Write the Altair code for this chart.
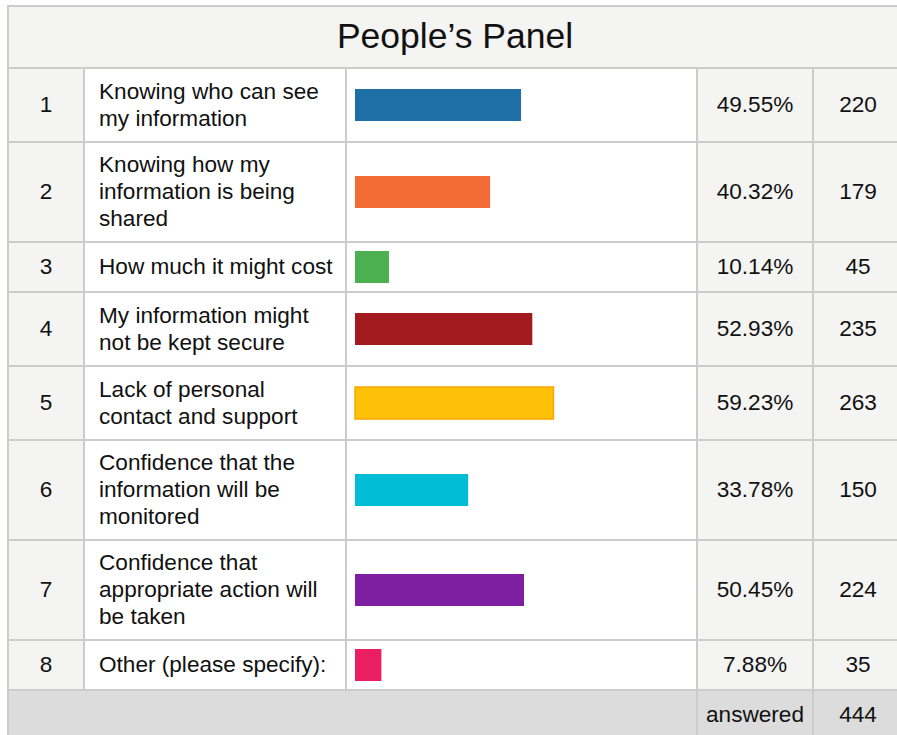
import altair as alt
import pandas as pd

W, H = 897, 735

title = "People’s Panel"
ranks = [1, 2, 3, 4, 5, 6, 7, 8]
labels = [
    "Knowing who can see\nmy information",
    "Knowing how my\ninformation is being\nshared",
    "How much it might cost",
    "My information might\nnot be kept secure",
    "Lack of personal\ncontact and support",
    "Confidence that the\ninformation will be\nmonitored",
    "Confidence that\nappropriate action will\nbe taken",
    "Other (please specify):",
]
pcts = [49.55, 40.32, 10.14, 52.93, 59.23, 33.78, 50.45, 7.88]
counts = [220, 179, 45, 235, 263, 150, 224, 35]
bar_colors = ["#1D6FA5", "#F26B35", "#4CAF50", "#A31B1F",
              "#FFC107", "#00BCD4", "#7E1FA2", "#E91E63"]
bar_outline = [None, None, None, None, "#FFA500", None, None, None]
answered_label = "answered"
answered_total = 444

# ---- styling / layout ----
FONT = "Liberation Sans"
GRID = "#cccccc"
SHADE = "#f4f4f2"
FOOT = "#dcdcdc"
TXT = "#111111"
FS = 22.6
LH = 27
col_edges = [8, 84, 346, 697, 813, 915]
col_fills = [SHADE, "#ffffff", "#ffffff", SHADE, SHADE]
title_top, title_bot = 6, 68
row_h = {1: 50, 2: 74, 3: 100}
BAR_H = 32

rows = []
y = title_bot
for i in range(len(ranks)):
    n = labels[i].count("\n") + 1
    h = row_h[n]
    mid = y + h / 2
    rows.append(dict(
        rank=str(ranks[i]), label=labels[i], pct=pcts[i], count=str(counts[i]),
        color=bar_colors[i],
        stroke=bar_outline[i] if bar_outline[i] else bar_colors[i],
        sw=1.5 if bar_outline[i] else 0.0,
        top=y, bot=y + h, mid=mid, ly=mid - (n - 1) * LH / 2,
        btop=mid - BAR_H / 2, bbot=mid + BAR_H / 2,
        zero=0.0, pct_text=f"{pcts[i]:.2f}%",
    ))
    y += h
foot_top = y
foot_bot = H + 10
rows_df = pd.DataFrame(rows)

cells = [dict(x0=col_edges[0], x1=col_edges[-1], y0=title_top, y1=title_bot, fill=SHADE)]
for r in rows:
    for c in range(5):
        cells.append(dict(x0=col_edges[c], x1=col_edges[c + 1], y0=r["top"], y1=r["bot"],
                          fill=col_fills[c]))
cells.append(dict(x0=col_edges[0], x1=col_edges[3], y0=foot_top, y1=foot_bot, fill=FOOT))
cells.append(dict(x0=col_edges[3], x1=col_edges[4], y0=foot_top, y1=foot_bot, fill=FOOT))
cells.append(dict(x0=col_edges[4], x1=col_edges[5], y0=foot_top, y1=foot_bot, fill=FOOT))
cells_df = pd.DataFrame(cells)

LX = alt.Scale(domain=[0, W], nice=False, zero=False)
LY = alt.Scale(domain=[0, H], reverse=True, nice=False, zero=False)

grid = alt.Chart(cells_df).mark_rect(stroke=GRID, strokeWidth=2, clip=True).encode(
    x=alt.X("x0:Q", scale=LX, axis=None),
    x2="x1:Q",
    y=alt.Y("y0:Q", scale=LY, axis=None),
    y2="y1:Q",
    fill=alt.Fill("fill:N", scale=None),
)

bars = alt.Chart(rows_df).mark_rect().encode(
    x=alt.X("zero:Q", scale=alt.Scale(domain=[0, 100], range=[355, 690], nice=False), axis=None),
    x2="pct:Q",
    y=alt.Y("btop:Q", scale=LY, axis=None),
    y2="bbot:Q",
    fill=alt.Fill("color:N", scale=None),
    stroke=alt.Stroke("stroke:N", scale=None),
    strokeWidth=alt.StrokeWidth("sw:Q", scale=None),
)

base_text = dict(baseline="middle", fontSize=FS, font=FONT, color=TXT)

num_text = alt.Chart(rows_df).mark_text(align="center", **base_text).encode(
    x=alt.value(46), y=alt.Y("mid:Q", scale=LY, axis=None), text="rank:N")

label_text = alt.Chart(rows_df).mark_text(align="left", lineBreak="\n", lineHeight=LH,
                                          **base_text).encode(
    x=alt.value(99), y=alt.Y("ly:Q", scale=LY, axis=None), text="label:N")

pct_text = alt.Chart(rows_df).mark_text(align="center", **base_text).encode(
    x=alt.value(755), y=alt.Y("mid:Q", scale=LY, axis=None), text="pct_text:N")

cnt_text = alt.Chart(rows_df).mark_text(align="center", **base_text).encode(
    x=alt.value(858), y=alt.Y("mid:Q", scale=LY, axis=None), text="count:N")

foot_df = pd.DataFrame([dict(label=answered_label, total=str(answered_total),
                             mid=(foot_top + H) / 2 + 2)])
foot_lbl = alt.Chart(foot_df).mark_text(align="center", **base_text).encode(
    x=alt.value(755), y=alt.Y("mid:Q", scale=LY, axis=None), text="label:N")
foot_tot = alt.Chart(foot_df).mark_text(align="center", **base_text).encode(
    x=alt.value(858), y=alt.Y("mid:Q", scale=LY, axis=None), text="total:N")

title_df = pd.DataFrame([dict(t=title, mid=(title_top + title_bot) / 2)])
title_text = alt.Chart(title_df).mark_text(align="center", baseline="middle", fontSize=35.5,
                                           font=FONT, color=TXT).encode(
    x=alt.value(455), y=alt.Y("mid:Q", scale=LY, axis=None), text="t:N")

chart = alt.layer(
    grid, bars, num_text, label_text, pct_text, cnt_text, foot_lbl, foot_tot, title_text
).resolve_scale(x="independent").properties(
    width=W, height=H, padding=0, autosize="none", background="#ffffff"
).configure_view(stroke=None)

chart.save("out.html", embed_options={"renderer": "svg", "actions": False})
